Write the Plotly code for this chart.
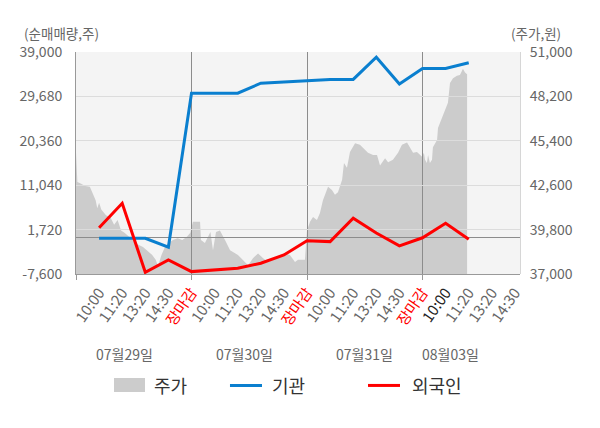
import plotly.graph_objects as go

# ---------------- data ----------------
time_labels = ["10:00", "11:20", "13:20", "14:30", "장마감",
               "10:00", "11:20", "13:20", "14:30", "장마감",
               "10:00", "11:20", "13:20", "14:30", "장마감",
               "10:00", "11:20", "13:20", "14:30"]
day_labels = ["07월29일", "07월30일", "07월31일", "08월03일"]
series_names = ["주가", "기관", "외국인"]
sessions_per_day = 5

# cumulative net buying (shares) at each session mark (10:00 day1 .. 11:20 day4)
inst = [-100, -100, -100, -1950, 30350,
        30350, 30350, 32450, 32750, 33100,
        33250, 33250, 37900, 32300, 35550,
        35550, 36750]
foreign = [2100, 7250, -7250, -4650, -7100,
           -6750, -6400, -5350, -3600, -600,
           -800, 4100, 1000, -1700, 0,
           3050, -300]

# stock price (won), position in session units along the axis
price_pos = [0.0, 0.06, 0.2, 0.4, 0.6, 0.7, 0.85, 0.92, 1.0, 1.1, 1.3, 1.5, 1.65, 1.8, 1.95,
             2.1, 2.3, 2.5, 2.7, 2.9, 3.05, 3.3, 3.45, 3.55, 3.7, 3.85, 4.0, 4.2, 4.4, 4.6, 4.8, 4.95,
             5.06, 5.37, 5.41, 5.58, 5.82, 5.93, 6.06, 6.23, 6.45, 6.67, 7.01, 7.32, 7.45, 7.66,
             7.88, 8.1, 8.31, 8.53, 8.83, 9.05, 9.26, 9.48, 9.61, 9.91,
             10.0, 10.13, 10.26, 10.43, 10.56, 10.69, 10.91, 11.08, 11.21, 11.34, 11.52, 11.6,
             11.73, 11.86, 12.08, 12.29, 12.42, 12.64, 12.86, 13.03, 13.16, 13.38, 13.51, 13.72,
             13.94, 14.11, 14.33, 14.46, 14.59, 14.76, 14.98,
             15.06, 15.11, 15.19, 15.24, 15.32, 15.41, 15.45, 15.63, 15.67, 15.84, 15.97, 16.1,
             16.19, 16.32, 16.49, 16.62, 16.75, 16.84, 16.93]
price = [44650, 42800, 42700, 42550, 42500, 42150, 41650, 41150, 41500, 41050, 40700, 40550, 40100, 40400, 39750,
         39600, 39350, 39150, 38850, 38700, 38500, 38200, 37900, 37500, 38200, 38700, 38950, 39150, 39250, 39150, 39350, 39600,
         40300, 40300, 39150, 38950, 39650, 38500, 39650, 39750, 39150, 38500, 38200, 37700, 37550, 38000,
         38300, 38000, 37750, 37900, 38200, 38300, 38200, 37750, 37900, 37900,
         39750, 40300, 40600, 40400, 40850, 41650, 42500, 42300, 42000, 42150, 42950, 44000,
         43700, 44700, 45250, 45150, 44950, 44650, 44500, 44500, 43850, 44300, 44050, 44200,
         44650, 45150, 45300, 44950, 44650, 44700, 44400,
         44650, 44200, 44000, 44500, 44000, 44200, 45000, 45450, 46200, 46850, 47350, 47800,
         49050, 49350, 49500, 49550, 49950, 49700, 49600]

left_ticks = [-7600, 1720, 11040, 20360, 29680, 39000]
right_ticks = [37000, 39800, 42600, 45400, 48200, 51000]

# ---------------- figure ----------------
XMAX = 19.22
pos = list(range(1, len(inst) + 1))
tick_pos = list(range(1, len(time_labels) + 1))
day_bounds = [d * sessions_per_day for d in range(len(day_labels))]

ticktext = []
for i, t in enumerate(time_labels):
    if t == "장마감":
        ticktext.append('<span style="color:#ff0000">' + t + '</span>')
    elif i == 3 * sessions_per_day:
        ticktext.append('<span style="color:#222222">' + t + '</span>')
    else:
        ticktext.append(t)

FONT = "Noto Sans CJK KR"
GRAY_FILL = "#cccccc"
BLUE = "#0a7fcf"
RED = "#ff0000"

fig = go.Figure()
fig.add_trace(go.Scatter(x=price_pos, y=price, xaxis="x", yaxis="y", mode="lines",
                         fill="tozeroy", fillcolor=GRAY_FILL,
                         line=dict(width=0, color=GRAY_FILL), name=series_names[0],
                         hoverinfo="skip"))
fig.add_trace(go.Scatter(x=pos, y=inst, xaxis="x2", yaxis="y2", mode="lines",
                         line=dict(color=BLUE, width=3), name=series_names[1]))
fig.add_trace(go.Scatter(x=pos, y=foreign, xaxis="x2", yaxis="y2", mode="lines",
                         line=dict(color=RED, width=3), name=series_names[2]))

tickfont = dict(family=FONT, size=14, color="#666666")
fig.update_layout(
    width=600, height=428, autosize=False,
    margin=dict(l=76, r=80, t=52, b=154),
    paper_bgcolor="white", plot_bgcolor="rgba(0,0,0,0)",
    font=dict(family=FONT, color="#666666"),
    showlegend=False,
    xaxis=dict(domain=[0, 1], anchor="y", range=[0, XMAX], tickmode="array",
               tickvals=tick_pos, ticktext=ticktext, tickangle=-55, ticks="",
               showgrid=False, zeroline=False, showline=False,
               tickfont=dict(family=FONT, size=15, color="#666666"),
               ticklabelstandoff=6),
    yaxis=dict(anchor="x", side="right", range=[37000, 51000], tickmode="array",
               tickvals=right_ticks, ticktext=[f"{v:,}" for v in right_ticks],
               showgrid=False, zeroline=False, showline=True, linecolor="#d6d6d6",
               ticks="", tickfont=tickfont, ticklabelstandoff=6),
    xaxis2=dict(domain=[0, 1], anchor="y2", range=[0, XMAX], tickmode="array",
                tickvals=day_bounds, showticklabels=False, ticks="outside", ticklen=5,
                tickcolor="#999999", showgrid=True, gridcolor="#8c8c8c", gridwidth=1,
                showline=True, linecolor="#999999", zeroline=False),
    yaxis2=dict(anchor="x2", side="left", range=[-7600, 39000], tickmode="array",
                tickvals=left_ticks, ticktext=[f"{v:,}" for v in left_ticks],
                showgrid=True, gridcolor="#dcdcdc", gridwidth=1,
                zeroline=True, zerolinecolor="#8c8c8c", zerolinewidth=1,
                showline=True, linecolor="#999999", ticks="", tickfont=tickfont,
                ticklabelstandoff=10),
)

shapes = [
    # plot background, drawn under the price area
    dict(type="rect", xref="x domain", yref="y domain", x0=0, x1=1, y0=0, y1=1,
         fillcolor="#f4f4f4", line=dict(width=0), layer="below"),
    # legend symbols
    dict(type="rect", xref="paper", yref="paper", x0=0.0856, x1=0.1554, y0=-0.5315, y1=-0.4685,
         fillcolor=GRAY_FILL, line=dict(width=0)),
    dict(type="line", xref="paper", yref="paper", x0=0.3468, x1=0.4189, y0=-0.502, y1=-0.502,
         line=dict(color=BLUE, width=3)),
    dict(type="line", xref="paper", yref="paper", x0=0.6577, x1=0.7297, y0=-0.502, y1=-0.502,
         line=dict(color=RED, width=3)),
]
fig.update_layout(shapes=shapes)

annotations = [
    dict(text="(순매매량,주)", xref="paper", yref="paper", x=-0.122, y=1.086,
         xanchor="left", yanchor="middle", showarrow=False,
         font=dict(family=FONT, size=13.5, color="#666666")),
    dict(text="(주가,원)", xref="paper", yref="paper", x=0.975, y=1.086,
         xanchor="left", yanchor="middle", showarrow=False,
         font=dict(family=FONT, size=13.5, color="#666666")),
]
for name, xp in zip(series_names, [0.1712, 0.4369, 0.7523]):
    annotations.append(dict(text=name, xref="paper", yref="paper", x=xp, y=-0.502,
                            xanchor="left", yanchor="middle", showarrow=False,
                            font=dict(family=FONT, size=18, color="#333333")))
for label, xp in zip(day_labels, [2.1, 7.3, 12.5, 16.2]):
    annotations.append(dict(text=label, xref="x", yref="paper", x=xp, y=-0.36,
                            xanchor="center", yanchor="middle", showarrow=False,
                            font=dict(family=FONT, size=14, color="#666666")))
fig.update_layout(annotations=annotations)

fig.write_html("out.html", config={"displayModeBar": False},
               post_script="document.body.style.margin='0px';")
